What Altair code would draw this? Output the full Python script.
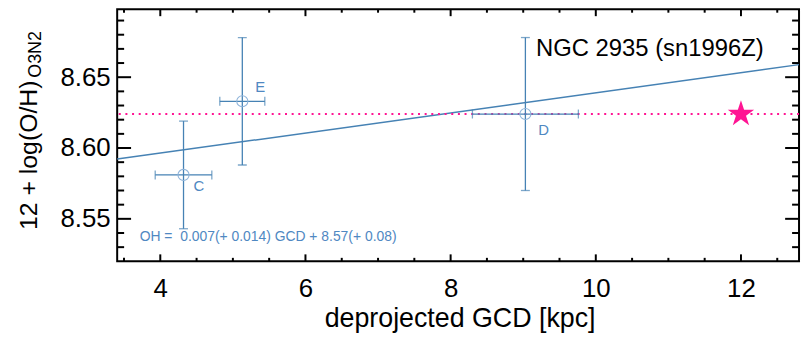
import altair as alt
import pandas as pd

# ---------------- data ----------------
regions = ["C", "E", "D"]
gcd = [4.32, 5.13, 9.03]          # deprojected GCD [kpc]
gcd_err = [0.39, 0.31, 0.73]
oh = [8.581, 8.633, 8.624]        # 12 + log(O/H)
oh_err = [0.038, 0.045, 0.054]

sn_gcd = [12.0]
sn_oh = [8.624]

fit_slope = 0.0071
fit_intercept = 8.568

x_domain = [3.406, 12.80]
y_domain = [8.520, 8.698]

x_major = [4, 6, 8, 10, 12]
x_minor = [3.5, 4.5, 5, 5.5, 6.5, 7, 7.5, 8.5, 9, 9.5, 10.5, 11, 11.5, 12.5]
y_major = [8.55, 8.60, 8.65]
y_minor = [8.53, 8.54, 8.56, 8.57, 8.58, 8.59, 8.61, 8.62,
           8.63, 8.64, 8.66, 8.67, 8.68, 8.69]

title_text = "NGC 2935 (sn1996Z)"
fit_text = "OH =\u00a0 0.007(+ 0.014) GCD + 8.57(+ 0.08)"
x_title = "deprojected GCD [kpc]"
y_title_main = "12 + log(O/H)"
y_title_sub = "O3N2"

# ---------------- layout / style ----------------
W, H = 687, 254
FONT = "Liberation Sans"
BLUE = "#4682b4"
LBLUE = "#8fb4da"
TBLUE = "#4f88c2"
PINK = "#ff1493"

pts = pd.DataFrame({"region": regions, "x": gcd, "xe": gcd_err, "y": oh, "ye": oh_err})
pts["xlo"] = pts.x - pts.xe
pts["xhi"] = pts.x + pts.xe
pts["ylo"] = pts.y - pts.ye
pts["yhi"] = pts.y + pts.ye

fit_df = pd.DataFrame({"x": x_domain})
fit_df["y"] = fit_slope * fit_df.x + fit_intercept

sn_df = pd.DataFrame({"x": sn_gcd, "y": sn_oh})

xs = alt.Scale(domain=x_domain, nice=False, zero=False)
ys = alt.Scale(domain=y_domain, nice=False, zero=False)

x_axis = alt.Axis(values=x_major, format="d", title=x_title, labelFontSize=26,
                  labelPadding=14, labelFlush=False, titleFontSize=27,
                  titleFontWeight="normal", titleX=345, titleY=66,
                  titleBaseline="alphabetic", titleAlign="center")
y_axis = alt.Axis(values=y_major, format=".2f", title=y_title_main, labelFontSize=26,
                  labelPadding=7, labelFlush=False, titleFontSize=25,
                  titleFontWeight="normal", titleAngle=270, titleX=-81, titleY=222,
                  titleAlign="left", titleBaseline="alphabetic")


def X(field):
    return alt.X(field, scale=xs, axis=x_axis)


def Y(field):
    return alt.Y(field, scale=ys, axis=y_axis)


base = alt.Chart(pts)

# fit line
fit = alt.Chart(fit_df).mark_line(color=BLUE, strokeWidth=1.5).encode(
    x=X("x:Q"), y=Y("y:Q"))

# SN metallicity dotted line
sn_line = alt.Chart(sn_df).mark_rule(color=PINK, strokeWidth=2, strokeDash=[2, 4.7]).encode(
    y=Y("y:Q"))

# error bars
xbar = base.mark_rule(color=BLUE, strokeWidth=1.3).encode(
    x=X("xlo:Q"), x2="xhi:Q", y=Y("y:Q"))
ybar = base.mark_rule(color=BLUE, strokeWidth=1.3).encode(
    x=X("x:Q"), y=Y("ylo:Q"), y2="yhi:Q")
xcap_lo = base.mark_tick(color=BLUE, orient="vertical", size=9, thickness=1.3).encode(
    x=X("xlo:Q"), y=Y("y:Q"))
xcap_hi = base.mark_tick(color=BLUE, orient="vertical", size=9, thickness=1.3).encode(
    x=X("xhi:Q"), y=Y("y:Q"))
ycap_lo = base.mark_tick(color=BLUE, orient="horizontal", size=9, thickness=1.3).encode(
    x=X("x:Q"), y=Y("ylo:Q"))
ycap_hi = base.mark_tick(color=BLUE, orient="horizontal", size=9, thickness=1.3).encode(
    x=X("x:Q"), y=Y("yhi:Q"))

circles = base.mark_point(shape="circle", filled=False, color=LBLUE, size=125,
                          strokeWidth=1.1, opacity=1).encode(x=X("x:Q"), y=Y("y:Q"))

label_offsets = {"C": (10, 11), "E": (13, -14), "D": (13, 16)}
labels = []
for r in regions:
    dx, dy = label_offsets[r]
    labels.append(base.transform_filter(alt.datum.region == r).mark_text(
        align="left", baseline="middle", dx=dx, dy=dy, fontSize=15, font=FONT,
        color=TBLUE).encode(x=X("x:Q"), y=Y("y:Q"), text="region:N"))

star_path = ("M0,-1 L0.2245,-0.309 L0.951,-0.309 L0.363,0.118 L0.588,0.809 "
             "L0,0.382 L-0.588,0.809 L-0.363,0.118 L-0.951,-0.309 L-0.2245,-0.309 Z")
star = alt.Chart(sn_df).mark_point(shape=star_path, filled=True, color=PINK,
                                   size=780, opacity=1, strokeWidth=0).encode(
    x=X("x:Q"), y=Y("y:Q"))


# inward frame ticks
def tick_df(vals):
    return pd.DataFrame({"v": vals})


def xticks(vals, length):
    bot = alt.Chart(tick_df(vals)).mark_rule(color="black", strokeWidth=2).encode(
        x=X("v:Q"), y=alt.value(H), y2=alt.value(H - length))
    top = alt.Chart(tick_df(vals)).mark_rule(color="black", strokeWidth=2).encode(
        x=X("v:Q"), y=alt.value(0), y2=alt.value(length))
    return [bot, top]


def yticks(vals, length):
    left = alt.Chart(tick_df(vals)).mark_rule(color="black", strokeWidth=2).encode(
        y=Y("v:Q"), x=alt.value(0), x2=alt.value(length))
    right = alt.Chart(tick_df(vals)).mark_rule(color="black", strokeWidth=2).encode(
        y=Y("v:Q"), x=alt.value(W - length), x2=alt.value(W))
    return [left, right]


ticks = xticks(x_major, 7) + xticks(x_minor, 3.5) + yticks(y_major, 14) + yticks(y_minor, 7)

# text annotations
ann_df = pd.DataFrame({"t": [title_text]})
title_mark = alt.Chart(ann_df).mark_text(align="left", baseline="alphabetic", fontSize=24,
                                         font=FONT, color="black").encode(
    x=alt.value(422), y=alt.value(47), text="t:N")
fit_df_t = pd.DataFrame({"t": [fit_text]})
fit_mark = alt.Chart(fit_df_t).mark_text(align="left", baseline="middle", fontSize=14,
                                         font=FONT, color=TBLUE).encode(
    x=alt.value(22.7), y=alt.value(229.3), text="t:N")
sub_df = pd.DataFrame({"t": [y_title_sub]})
sub_mark = alt.Chart(sub_df).mark_text(align="left", baseline="alphabetic", fontSize=18,
                                       font=FONT, color="black", angle=270).encode(
    x=alt.value(-76.3), y=alt.value(69), text="t:N")

chart = alt.layer(
    fit, sn_line, xbar, ybar, xcap_lo, xcap_hi, ycap_lo, ycap_hi, circles, star,
    *labels, *ticks, title_mark, fit_mark, sub_mark
).properties(
    width=W, height=H,
    autosize=alt.AutoSizeParams(type="none"),
    padding={"left": 110, "top": 0, "right": 4, "bottom": 72},
).configure_view(
    stroke="black", strokeWidth=2
).configure_axis(
    domain=False, ticks=False, grid=False, labelFont=FONT, titleFont=FONT,
    labelColor="black", titleColor="black"
)

chart.save("out.html", embed_options={"renderer": "svg", "actions": False})
